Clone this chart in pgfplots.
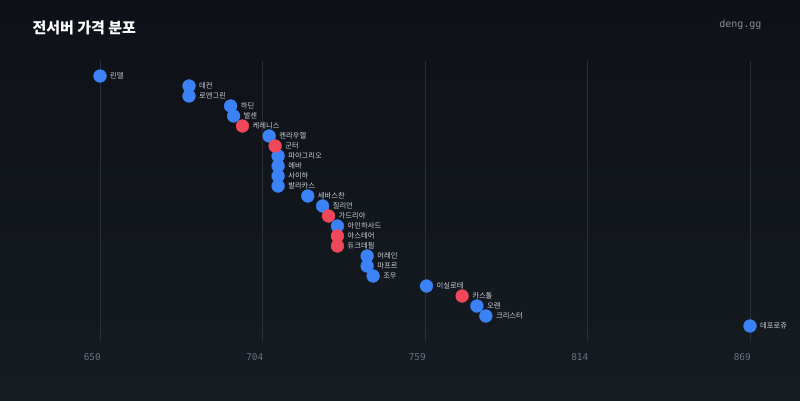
\documentclass[border=0pt]{standalone}
\usepackage{fontspec}
\usepackage{pgfplots}
\pgfplotsset{compat=1.18}
\newfontfamily\cjk{Noto Sans CJK KR}
\newfontfamily\monof{DejaVu Sans Mono}
\definecolor{bgtop}{HTML}{0E1117}
\definecolor{bgbot}{HTML}{161B22}
\definecolor{gridc}{HTML}{2A3039}
\definecolor{tickc}{HTML}{6B7280}
\definecolor{labc}{HTML}{CDD1D8}
\definecolor{blu}{HTML}{3B82F6}
\definecolor{rd}{HTML}{F0485A}

\begin{document}
\begin{tikzpicture}
\shade[top color=bgtop, bottom color=bgbot] (0,0) rectangle (800pt,400pt);
\node[anchor=west, text=white, font=\cjk\bfseries\fontsize{15}{15}\selectfont] at (29pt,372pt) {전서버 가격 분포};
\node[anchor=east, text=tickc!80!white, font=\monof\fontsize{10}{10}\selectfont] at (765pt,375pt) {deng.gg};
\begin{axis}[
	at={(100pt,59pt)}, anchor=south west,
	scale only axis, width=650pt, height=280pt,
	xmin=650, xmax=869, ymin=-0.5, ymax=27.5, y dir=reverse,
	axis line style={draw=none},
	xtick={650,704.75,759.5,814.25,869},
	xticklabels={650,704,759,814,869},
	ytick=\empty,
	major tick length=0pt,
	xmajorgrids,
	grid style={color=gridc, line width=0.8pt},
	xticklabel style={font=\monof\fontsize{9.4}{9.4}\selectfont, text=tickc, anchor=north east, inner sep=0pt, xshift=1pt, yshift=-12pt},
	clip=false,
	nodes near coords,
	point meta=explicit symbolic,
	every node near coord/.append style={anchor=west, inner sep=0pt, xshift=10pt, text=labc, font=\cjk\fontsize{7.3}{7.3}\selectfont},
]
\addplot[only marks, mark=*, mark size=6.4pt, color=blu, mark options={draw=blu, fill=blu}] table[meta=name] {
x y name
650 1 린델
680 2 데컨
680 3 로엔그린
694 4 하딘
695 5 발센
707 7 켄라우헬
710 9 파아그리오
710 10 에바
710 11 사이하
710 12 발라카스
720 13 세바스찬
725 14 질리언
730 16 아인하사드
740 19 어레인
740 20 마프르
742 21 조우
760 22 이실로테
777 24 오렌
780 25 크리스터
869 26 데포로쥬
};
\addplot[only marks, mark=*, mark size=6.4pt, color=rd, mark options={draw=rd, fill=rd}] table[meta=name] {
x y name
698 6 케레니스
709 8 군터
727 15 가드리아
730 17 아스테어
730 18 듀크데필
772 23 카스톨
};
\end{axis}
\pgfresetboundingbox
\path (0,0) rectangle (800pt,400pt);
\end{tikzpicture}
\end{document}
